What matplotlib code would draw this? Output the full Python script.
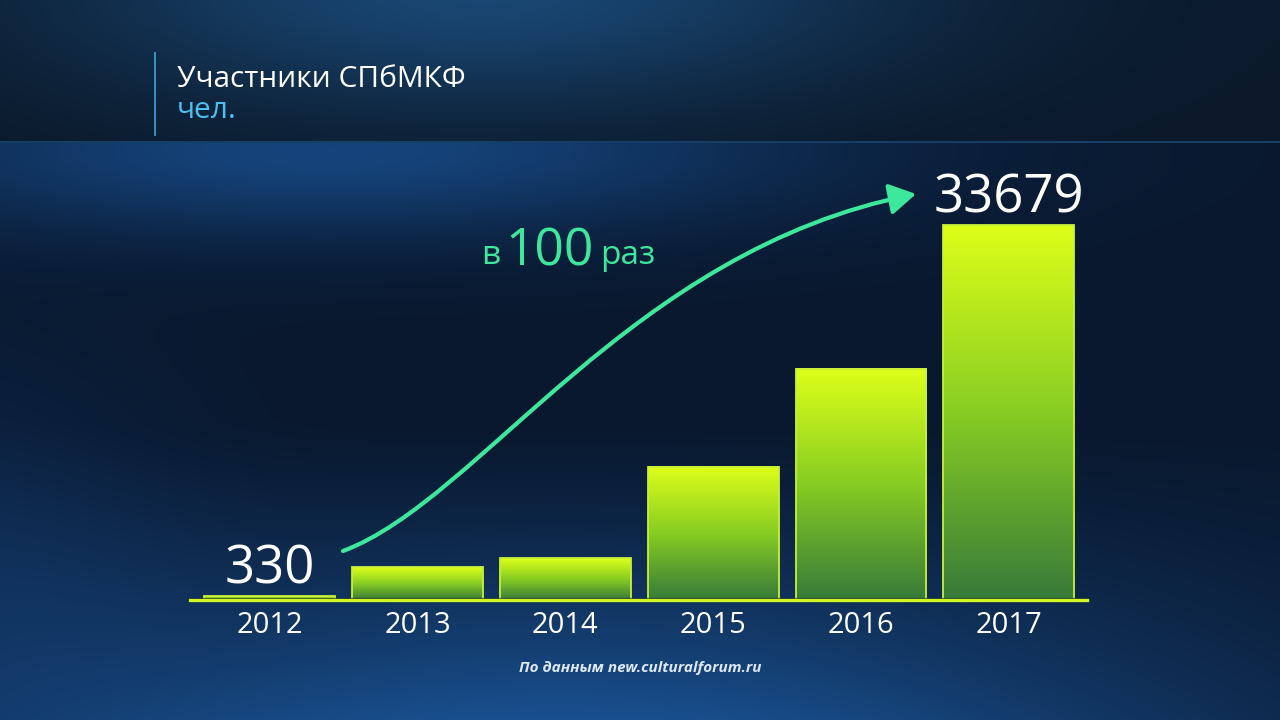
import numpy as np
import matplotlib
matplotlib.use("Agg")
import matplotlib.pyplot as plt
from matplotlib.patches import FancyArrowPatch, ArrowStyle
from matplotlib.path import Path

# data
years = ["2012", "2013", "2014", "2015", "2016", "2017"]
participants = [330, 2960, 3770, 11950, 20750, 33679]
shown_labels = {0: "330", 5: "33679"}

title = "Участники СПбМКФ"
unit = "чел."
source = "По данным new.culturalforum.ru"

plt.rcParams["font.family"] = ["Open Sans", "DejaVu Sans"]

W, H = 1280, 720
fig = plt.figure(figsize=(12.8, 7.2), dpi=100)

# background
yy, xx = np.mgrid[0:H, 0:W].astype(float)
bg = np.zeros((H, W, 3))
top = yy < 141
main = yy >= 143
g1 = np.exp(-((xx - 480) / 430) ** 2 - ((yy + 10) / 120) ** 2)
g2 = np.exp(-((xx - 330) / 480) ** 2 - ((yy - 150) / 85) ** 2)
g3 = np.clip((yy - 420) / 300, 0, 1) ** 1.3 * np.exp(-((xx - 560) / 700) ** 2)
g4 = np.exp(-((xx + 50) / 220) ** 2 - ((yy - 560) / 200) ** 2)
for c in range(3):
    base_top = [11, 25, 42][c] + [14, 45, 72][c] * g1
    base_main = ([9, 24, 46][c] + [12, 44, 78][c] * g2
                 + [16, 56, 98][c] * g3 + [4, 14, 26][c] * g4)
    bg[..., c] = np.where(top, base_top, np.where(main, base_main, [22, 62, 100][c]))
bg = np.clip(bg / 255, 0, 1)
bgax = fig.add_axes([0, 0, 1, 1], zorder=0)
bgax.imshow(bg, aspect="auto", extent=[0, W, H, 0], interpolation="bilinear")
bgax.axis("off")

# chart axes: baseline at y=600px, x from 190 to 1087px
ax = fig.add_axes([190 / W, 120 / H, 897 / W, 450 / H], zorder=1)
ax.patch.set_alpha(0)
x = np.arange(len(years))
bars = ax.bar(x, participants, width=0.885, facecolor="none",
              edgecolor="#c8f03a", linewidth=1.3, zorder=3)
ax.set_xlim(-0.54, 5.53)
ax.set_ylim(0, 33679 * 450 / 375)

top_c = np.array([222, 255, 25]) / 255
mid_c = np.array([135, 205, 35]) / 255
bot_c = np.array([55, 122, 58]) / 255
t = np.linspace(0, 1, 256)[:, None]
grad = np.where(t < 0.5,
                top_c + (mid_c - top_c) * (t / 0.5),
                mid_c + (bot_c - mid_c) * ((t - 0.5) / 0.5))
grad = grad[:, None, :]
for b in bars:
    bx, bw, bh = b.get_x(), b.get_width(), b.get_height()
    ax.imshow(grad, extent=[bx, bx + bw, 0, bh], aspect="auto",
              interpolation="bilinear", zorder=2)

ax.axhline(0, color="#0a1a2a", lw=3, zorder=4, alpha=0.7, clip_on=False)
ax.axhline(0, color="#d2f524", lw=2.4, zorder=5, clip_on=False)
for s in ax.spines.values():
    s.set_visible(False)
ax.set_xticks([])
ax.set_yticks([])

for i, yr in enumerate(years):
    ax.annotate(yr, (x[i], 0), xytext=(0, -24), textcoords="offset points",
                ha="center", va="baseline", color="white", fontsize=21)
for i, lab in shown_labels.items():
    ax.annotate(lab, (x[i], participants[i]), xytext=(0, 9),
                textcoords="offset points", ha="center", va="baseline",
                color="white", fontsize=38)

# title block
fig.add_artist(plt.Line2D([155 / W, 155 / W], [1 - 53 / H, 1 - 135 / H],
                          color="#3a9ad0", lw=1.3))
fig.text(177 / W, 1 - 87 / H, title, color="white", fontsize=21.5, va="baseline")
fig.text(177 / W, 1 - 118 / H, unit, color="#4cc0ee", fontsize=21.5, va="baseline")

# growth arrow
green = "#3de89c"
pts = np.array([[343, 551], [480, 500], [630, 250], [916, 194]], float)
pts[:, 0] /= W
pts[:, 1] = 1 - pts[:, 1] / H
arrow = FancyArrowPatch(path=Path(pts, [Path.MOVETO, Path.CURVE4, Path.CURVE4, Path.CURVE4]),
                        arrowstyle=ArrowStyle("-|>", head_length=0.8, head_width=0.47),
                        mutation_scale=20, lw=3, color=green,
                        transform=fig.transFigure, zorder=6)
fig.add_artist(arrow)
fig.text(550 / W, 1 - 265 / H, "100", color=green, fontsize=37, ha="center", va="baseline")
fig.text(500 / W, 1 - 264 / H, "в", color=green, fontsize=24, ha="right", va="baseline")
fig.text(600 / W, 1 - 264 / H, "раз", color=green, fontsize=24, ha="left", va="baseline")

fig.text(640 / W, 1 - 672 / H, source, color="#dde8f5", fontsize=11,
         fontweight="bold", fontstyle="italic", ha="center", va="baseline")

fig.savefig("out.png", dpi=100)
